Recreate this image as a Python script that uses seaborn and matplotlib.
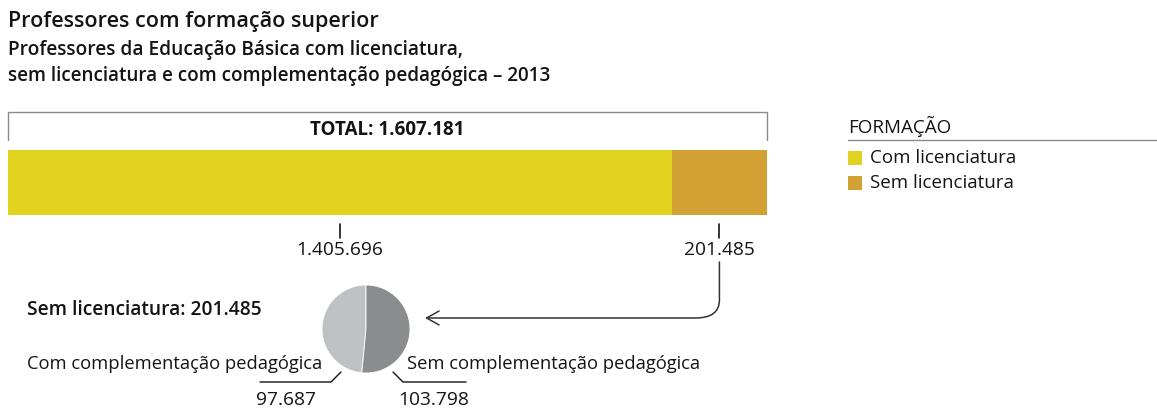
import seaborn as sns
import matplotlib.pyplot as plt
from matplotlib.patches import FancyArrowPatch, Rectangle
from matplotlib.path import Path

# dados
categorias = ['Com licenciatura', 'Sem licenciatura']
professores = [1405696, 201485]
total = 1607181
pie_labels = ['Com complementação pedagógica', 'Sem complementação pedagógica']
pie_valores = [97687, 103798]

cores = ['#e0d21f', '#d2a133']
cores_pie = ['#c0c1c3', '#8b8c8e']

sns.set_theme(style = 'white')
plt.rcParams['font.family'] = ['Open Sans', 'DejaVu Sans']
txt = '#141418'


def fmt(v):
    return f'{v:,}'.replace(',', '.')


W, H = 1157, 409
fig = plt.figure(figsize = (W / 100, H / 100), dpi = 100)


def px_axes(x0, y0, x1, y1):
    return fig.add_axes([x0 / W, 1 - y1 / H, (x1 - x0) / W, (y1 - y0) / H])


over = fig.add_axes([0, 0, 1, 1])
over.set_xlim(0, W)
over.set_ylim(H, 0)
over.axis('off')

# títulos
over.text(8, 22, 'Professores com formação superior', fontsize = 15.5, fontweight = 'semibold',
          color = txt, va = 'center')
over.text(8, 50, 'Professores da Educação Básica com licenciatura,', fontsize = 13.8,
          fontweight = 'semibold', color = txt, va = 'center')
over.text(8, 76, 'sem licenciatura e com complementação pedagógica – 2013', fontsize = 13.6,
          fontweight = 'semibold', color = txt, va = 'center')

# barra empilhada
bx0, bx1 = 8, 767
ax_bar = px_axes(bx0, 150, bx1, 215)
sns.barplot(x = [total], y = ['t'], orient = 'h', color = cores[1], width = 1,
            saturation = 1, linewidth = 0, ax = ax_bar)
sns.barplot(x = [professores[0]], y = ['t'], orient = 'h', color = cores[0], width = 1,
            saturation = 1, linewidth = 0, ax = ax_bar)
ax_bar.set_xlim(0, total)
ax_bar.set_ylim(0.5, -0.5)
ax_bar.axis('off')

# colchete do total
over.plot([bx0, bx0, bx1, bx1], [140, 112, 112, 140], color = '#8a8a8a', lw = 1)
over.text((bx0 + bx1) / 2, 130, 'TOTAL: ' + fmt(total), fontsize = 13.5, fontweight = 'bold',
          color = txt, ha = 'center', va = 'center')

# marcas e valores abaixo da barra
meios = [professores[0] / 2, professores[0] + professores[1] / 2]
mid_px = []
for m, v in zip(meios, professores):
    xp = bx0 + (bx1 - bx0) * m / total
    mid_px.append(xp)
    over.plot([xp, xp], [224, 238], color = txt, lw = 1.2)
    over.text(xp, 250, fmt(v), fontsize = 13.8, color = txt, ha = 'center', va = 'center')

# seta
ax0 = mid_px[1]
verts = [(ax0, 262), (ax0, 300), (ax0, 318), (ax0 - 24, 318), (425, 318)]
codes = [Path.MOVETO, Path.LINETO, Path.CURVE3, Path.CURVE3, Path.LINETO]
seta = FancyArrowPatch(path = Path(verts, codes), arrowstyle = '->,head_length=9,head_width=5',
                       color = '#333333', lw = 1.1)
over.add_patch(seta)

# pizza
ax_pie = px_axes(322, 285, 410, 373)
ax_pie.pie(pie_valores, colors = cores_pie, startangle = 90, counterclock = True,
           wedgeprops = {'linewidth': 0.6, 'edgecolor': 'white'})
ax_pie.set_xlim(-1, 1)
ax_pie.set_ylim(-1, 1)

over.text(27, 310, 'Sem licenciatura: ' + fmt(total - professores[0]), fontsize = 13.8,
          fontweight = 'semibold', color = txt, va = 'center')

# rótulos da pizza
over.plot([341, 331, 260], [372, 382, 382], color = txt, lw = 1)
over.plot([393, 403, 466], [372, 382, 382], color = txt, lw = 1)
over.text(27, 364, pie_labels[0], fontsize = 13.2, color = txt, va = 'center')
over.text(407, 364, pie_labels[1], fontsize = 13.2, color = txt, va = 'center')
over.text(286, 400, fmt(pie_valores[0]), fontsize = 13.8, color = txt, ha = 'center', va = 'center')
over.text(434, 400, fmt(pie_valores[1]), fontsize = 13.8, color = txt, ha = 'center', va = 'center')

# legenda
over.text(848, 126, 'FORMAÇÃO', fontsize = 13.6, color = txt, va = 'center')
over.plot([848, W], [140, 140], color = '#8a8a8a', lw = 1)
for i, (c, lab) in enumerate(zip(cores, categorias)):
    y = 158 + 25 * i
    over.add_patch(Rectangle((848, y - 7), 14, 14, color = c, lw = 0))
    over.text(870, y, lab, fontsize = 13.5, color = txt, va = 'center')

plt.savefig('out.png', dpi = 100)
